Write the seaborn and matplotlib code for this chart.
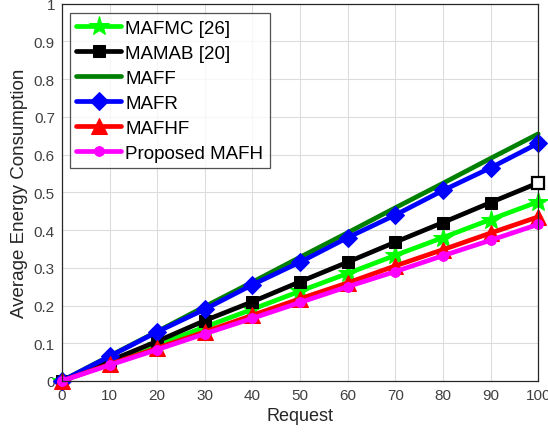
import matplotlib
matplotlib.use("Agg")
import matplotlib.pyplot as plt
import seaborn as sns
import pandas as pd

requests = [0, 10, 20, 30, 40, 50, 60, 70, 80, 90, 100]

mafmc = [0, 0.048, 0.095, 0.143, 0.190, 0.238, 0.285, 0.333, 0.380, 0.428, 0.475]
mamab = [0, 0.053, 0.105, 0.160, 0.210, 0.263, 0.315, 0.368, 0.420, 0.473, 0.525]
maff = [0, 0.066, 0.131, 0.197, 0.262, 0.328, 0.393, 0.459, 0.524, 0.590, 0.655]
mafr = [0, 0.065, 0.130, 0.190, 0.255, 0.315, 0.380, 0.440, 0.505, 0.565, 0.630]
mafhf = [0, 0.044, 0.087, 0.130, 0.174, 0.218, 0.260, 0.305, 0.348, 0.392, 0.435]
mafh = [0, 0.042, 0.083, 0.125, 0.166, 0.208, 0.250, 0.290, 0.332, 0.373, 0.415]

labels = ["MAFMC [26]", "MAMAB [20]", "MAFF", "MAFR", "MAFHF", "Proposed MAFH"]
series = [mafmc, mamab, maff, mafr, mafhf, mafh]
colors = ["#00ff00", "#000000", "#008000", "#0000ff", "#ff0000", "#ff00ff"]
markers = ["*", "s", None, "D", "^", "o"]
msizes = [15, 8, 0, 9, 11, 7]

x_ticks = [0, 10, 20, 30, 40, 50, 60, 70, 80, 90, 100]
y_ticks = [0, 0.1, 0.2, 0.3, 0.4, 0.5, 0.6, 0.7, 0.8, 0.9, 1]
y_ticklabels = ["0", "0.1", "0.2", "0.3", "0.4", "0.5", "0.6", "0.7", "0.8", "0.9", "1"]

sns.set_style("white")
plt.rcParams["font.family"] = ["Liberation Sans", "DejaVu Sans"]

rows = []
for lab, vals in zip(labels, series):
    for r, v in zip(requests, vals):
        rows.append({"Request": r, "Energy": v, "Method": lab})
df = pd.DataFrame(rows)

fig = plt.figure(figsize=(5.48, 4.35), dpi=100)
ax = fig.add_axes([0.113, 0.122, 0.869, 0.867])

for lab, col, mk, ms in zip(labels, colors, markers, msizes):
    sub = df[df["Method"] == lab]
    kw = dict(marker=mk, markersize=ms, markeredgecolor=col, markerfacecolor=col) if mk else {}
    sns.lineplot(data=sub, x="Request", y="Energy", ax=ax, color=col, linewidth=3.4,
                 label=lab, clip_on=False, **kw)

# open square on the final MAMAB point
ax.plot(requests[-1], mamab[-1], marker="s", markersize=8, markerfacecolor="white",
        markeredgecolor="black", markeredgewidth=1.6, clip_on=False, zorder=5)

ax.set_xlim(0, 100)
ax.set_ylim(0, 1)
ax.set_xticks(x_ticks)
ax.set_yticks(y_ticks)
ax.set_yticklabels(y_ticklabels)
ax.grid(True, color="#dcdcdc", linewidth=0.8)
ax.tick_params(direction="in", length=4, color="#262626", labelcolor="#404040",
               labelsize=11, pad=5)
for s in ax.spines.values():
    s.set_visible(True)
    s.set_color("#262626")
    s.set_linewidth(0.9)

ax.set_xlabel("Request", fontsize=13, color="#262626", labelpad=4)
ax.set_ylabel("Average Energy Consumption", fontsize=13.5, color="#262626", labelpad=4)

leg = ax.legend(loc="upper left", bbox_to_anchor=(0.005, 0.99), fontsize=13.5,
                frameon=True, fancybox=False, edgecolor="#262626", handlelength=2.4,
                handletextpad=0.2, borderpad=0.35, labelspacing=0.42, borderaxespad=0.3)
leg.get_frame().set_linewidth(0.9)
for t in leg.get_texts():
    t.set_color("black")

fig.savefig("out.png", dpi=100)
